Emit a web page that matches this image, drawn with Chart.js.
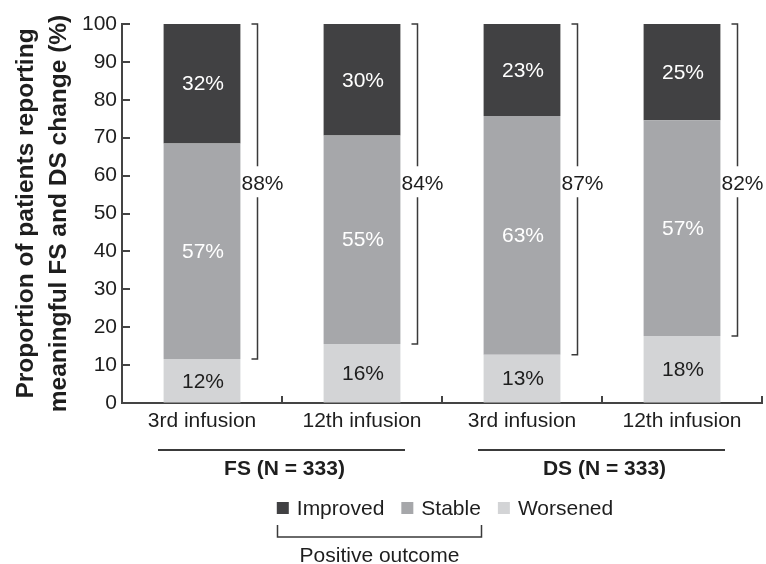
<!DOCTYPE html>
<html>
<head>
<meta charset="utf-8">
<script src="https://cdn.jsdelivr.net/npm/chart.js@4/dist/chart.umd.min.js"></script>
<style>
  html, body { margin: 0; padding: 0; background: #fff; }
</style>
</head>
<body>
<canvas id="fsdsChart" width="766" height="564"></canvas>
<script>
// Categories and groups
const categories = ['3rd infusion', '12th infusion', '3rd infusion', '12th infusion'];
const groups = ['FS (N = 333)', 'DS (N = 333)'];
const seriesNames = ['Worsened', 'Stable', 'Improved'];
const seriesColors = ['#d3d4d6', '#a6a7aa', '#414143'];

// Segment heights as drawn (%)
const worsened = [11.6, 15.6, 12.7, 17.7];
const stable = [56.9, 55.0, 63.0, 56.9];
const improved = [31.5, 29.4, 24.3, 25.4];

// Percentages printed on the figure
const worsenedText = [12, 16, 13, 18];
const stableText = [57, 55, 63, 57];
const improvedText = [32, 30, 23, 25];
const positiveText = [88, 84, 87, 82];

const yTicks = [0, 10, 20, 30, 40, 50, 60, 70, 80, 90, 100];

const FONT = '"Liberation Sans", Arial, Helvetica, sans-serif';
const INK = '#1e1e1e';
const LINE = '#3a3a3a';
const FS = 21;

// Labels, brackets, group lines, legend
const extras = {
  id: 'extras',
  afterDraw(chart) {
    const { ctx, scales: { x, y }, chartArea } = chart;
    ctx.save();

    // inward axis ticks
    ctx.strokeStyle = '#444';
    ctx.lineWidth = 2;
    yTicks.forEach(v => {
      const py = Math.round(y.getPixelForValue(v));
      ctx.beginPath();
      ctx.moveTo(chartArea.left, py);
      ctx.lineTo(chartArea.left + 8, py);
      ctx.stroke();
    });
    const half = (x.getPixelForValue(1) - x.getPixelForValue(0)) / 2;
    categories.forEach((c, i) => {
      const px = Math.round(x.getPixelForValue(i) + half);
      ctx.beginPath();
      ctx.moveTo(px, chartArea.bottom);
      ctx.lineTo(px, chartArea.bottom - 7);
      ctx.stroke();
    });

    // segment labels
    const texts = [worsenedText, stableText, improvedText];
    const textCols = [INK, '#fff', '#fff'];
    ctx.font = FS + 'px ' + FONT;
    ctx.textAlign = 'center';
    ctx.textBaseline = 'middle';
    texts.forEach((arr, d) => {
      chart.getDatasetMeta(d).data.forEach((bar, i) => {
        ctx.fillStyle = textCols[d];
        ctx.fillText(arr[i] + '%', bar.x + 1, (bar.y + bar.base) / 2 + 1);
      });
    });

    // positive outcome brackets
    const low = chart.getDatasetMeta(0).data;
    const top = chart.getDatasetMeta(2).data;
    const labelY = y.getPixelForValue(58);
    ctx.strokeStyle = LINE;
    ctx.lineWidth = 1.5;
    low.forEach((bar, i) => {
      const bx = Math.round(bar.x + bar.width / 2 + 17) + 0.5;
      const yt = top[i].y;
      const yb = bar.y;
      ctx.beginPath();
      ctx.moveTo(bx - 6, yt);
      ctx.lineTo(bx, yt);
      ctx.lineTo(bx, labelY - 17);
      ctx.moveTo(bx, labelY + 14);
      ctx.lineTo(bx, yb);
      ctx.lineTo(bx - 6, yb);
      ctx.stroke();
      ctx.fillStyle = INK;
      ctx.fillText(positiveText[i] + '%', bx + 5, labelY + 1);
    });

    // group lines and labels
    ctx.lineWidth = 2;
    groups.forEach((g, k) => {
      const x0 = x.getPixelForValue(2 * k) - 44;
      const x1 = x.getPixelForValue(2 * k + 1) + 43;
      ctx.beginPath();
      ctx.moveTo(x0, 450);
      ctx.lineTo(x1, 450);
      ctx.stroke();
      ctx.font = 'bold ' + FS + 'px ' + FONT;
      ctx.fillStyle = INK;
      ctx.fillText(g, (x0 + x1) / 2 + 3, 469);
    });

    // legend
    ctx.font = FS + 'px ' + FONT;
    ctx.textAlign = 'left';
    const box = 12, gapText = 8, gapItem = 17;
    const order = [2, 1, 0];
    const widths = order.map(d => box + gapText + ctx.measureText(seriesNames[d]).width);
    const total = widths.reduce((a, b) => a + b, 0) + gapItem * (order.length - 1);
    let lx = 445 - total / 2;
    const ly = 508;
    const starts = [];
    order.forEach((d, j) => {
      starts.push(lx);
      ctx.fillStyle = seriesColors[d];
      ctx.fillRect(lx, ly - box / 2, box, box);
      ctx.fillStyle = INK;
      ctx.fillText(seriesNames[d], lx + box + gapText, ly + 1);
      lx += widths[j] + gapItem;
    });
    // bracket under Improved + Stable
    const bl = Math.round(starts[0]) + 0.5;
    const br = Math.round(starts[1] + widths[1]) + 0.5;
    ctx.strokeStyle = LINE;
    ctx.lineWidth = 1.5;
    ctx.beginPath();
    ctx.moveTo(bl, 525);
    ctx.lineTo(bl, 537);
    ctx.lineTo(br, 537);
    ctx.lineTo(br, 525);
    ctx.stroke();
    ctx.textAlign = 'center';
    ctx.fillStyle = INK;
    ctx.fillText('Positive outcome', (bl + br) / 2, 556);

    ctx.restore();
  }
};

const ctx = document.getElementById('fsdsChart').getContext('2d');

new Chart(ctx, {
  type: 'bar',
  data: {
    labels: categories,
    datasets: [
      { label: seriesNames[0], data: worsened, backgroundColor: seriesColors[0] },
      { label: seriesNames[1], data: stable, backgroundColor: seriesColors[1] },
      { label: seriesNames[2], data: improved, backgroundColor: seriesColors[2] }
    ]
  },
  options: {
    responsive: false,
    animation: false,
    devicePixelRatio: 1,
    barPercentage: 0.48,
    categoryPercentage: 1.0,
    layout: { padding: { top: 24, right: 4, bottom: 125, left: 0 } },
    plugins: {
      legend: { display: false },
      tooltip: { enabled: false }
    },
    scales: {
      x: {
        stacked: true,
        grid: { display: true, drawOnChartArea: false, drawTicks: false },
        border: { color: '#444', width: 2 },
        ticks: { color: INK, font: { family: FONT, size: FS }, padding: 6 },
        afterFit: s => { s.height = 36; }
      },
      y: {
        stacked: true,
        min: yTicks[0],
        max: yTicks[yTicks.length - 1],
        grid: { display: true, drawOnChartArea: false, drawTicks: false },
        border: { color: '#444', width: 2 },
        ticks: { stepSize: 10, color: INK, font: { family: FONT, size: FS }, padding: 5 },
        title: {
          display: true,
          text: ['Proportion of patients reporting', 'meaningful FS and DS change (%)'],
          color: INK,
          font: { family: FONT, size: 24.5, weight: 'bold', lineHeight: 1.35 },
          padding: { top: 10, bottom: 0 }
        },
        afterFit: s => { s.width = 122; }
      }
    }
  },
  plugins: [extras]
});
</script>
</body>
</html>
